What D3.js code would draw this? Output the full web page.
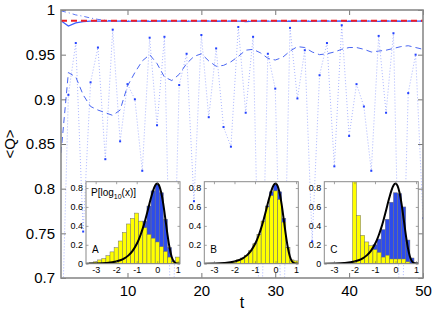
<!DOCTYPE html>
<html><head><meta charset="utf-8">
<script src="https://cdn.jsdelivr.net/npm/d3@7"></script>
<style>body{margin:0;background:#fff}svg{display:block}text{font-family:"Liberation Sans",Arial,Helvetica,sans-serif}</style>
</head><body><svg id="c" width="436" height="316"></svg>
<script>
// ---------- data ----------
const tValues = d3.range(1, 51);
const qDotted = [0.60,0.905,0.963,0.752,0.919,0.958,0.833,0.978,0.853,0.917,
  0.900,0.820,0.969,0.871,0.970,0.60,0.916,0.951,0.786,0.972,
  0.880,0.957,0.869,0.847,0.981,0.885,0.970,0.60,0.951,0.912,
  0.60,0.980,0.901,0.955,0.741,0.927,0.963,0.825,0.983,0.859,
  0.917,0.892,0.820,0.971,0.885,0.974,0.60,0.907,0.950,0.767];
const qDashed = [0.84,0.93,0.925,0.905,0.892,0.888,0.885,0.882,0.888,0.915,
  0.930,0.943,0.950,0.940,0.925,0.921,0.928,0.940,0.948,0.951,
  0.943,0.937,0.938,0.942,0.948,0.955,0.956,0.952,0.946,0.944,
  0.947,0.954,0.959,0.958,0.953,0.950,0.951,0.953,0.956,0.958,
  0.958,0.956,0.953,0.954,0.955,0.957,0.959,0.960,0.958,0.956];
const qDashDot = [0.999,0.997,0.9945,0.993,0.991,0.9895,0.9885,0.988,0.9878,0.9877,
  0.9877,0.9877,0.9877,0.9877,0.9877,0.9877,0.9877,0.9877,0.9877,0.9877,
  0.9877,0.9877,0.9877,0.9877,0.9877,0.9877,0.9877,0.9877,0.9877,0.9877,
  0.9877,0.9877,0.9877,0.9877,0.9877,0.9877,0.9877,0.9877,0.9877,0.9877,
  0.9877,0.9877,0.9877,0.9877,0.9877,0.9877,0.9877,0.9877,0.9877,0.9877];
const qSolid = [0.988,0.982,0.9855,0.987,0.9875,0.9876,0.9874,0.9877,0.9876,0.9873,
  0.9877,0.9875,0.9872,0.9876,0.9877,0.9874,0.9876,0.9873,0.9877,0.9875,
  0.9876,0.9872,0.9876,0.9874,0.9877,0.9871,0.9876,0.9875,0.9874,0.9877,
  0.9876,0.9873,0.9876,0.9875,0.9872,0.9877,0.9875,0.9874,0.9876,0.9873,
  0.9876,0.9875,0.9877,0.9872,0.9876,0.9875,0.9873,0.9877,0.9875,0.9876];
const qReference = [0.988, 0.988];
const qReferenceT = [1, 50];
const xTicks = [10, 20, 30, 40, 50];
const yTicks = [0.7, 0.75, 0.8, 0.85, 0.9, 0.95, 1];

// insets: histograms of log10(x)
const binCenters = [-3.2,-3.0,-2.8,-2.6,-2.4,-2.2,-2.0,-1.8,-1.6,-1.4,-1.2,-1.0,-0.8,-0.6,-0.4,-0.2,0.0,0.2,0.4,0.6,0.8,1.0];
const histAYellow = [0.01,0.02,0.04,0.055,0.085,0.125,0.17,0.24,0.33,0.42,0.48,0.535,0.45,0.38,0.31,0.27,0.23,0.18,0.13,0.07,0.02,0.07];
const histABlue   = [0.002,0.003,0.005,0.006,0.009,0.014,0.022,0.035,0.055,0.088,0.135,0.21,0.31,0.45,0.61,0.77,0.84,0.75,0.47,0.17,0.03,0.003];
const histBYellow = [0.001,0.002,0.004,0.006,0.01,0.015,0.025,0.04,0.06,0.09,0.14,0.21,0.31,0.45,0.60,0.72,0.77,0.68,0.44,0.17,0.04,0.03];
const histBBlue   = [0.001,0.002,0.004,0.006,0.009,0.014,0.022,0.035,0.055,0.088,0.135,0.21,0.31,0.45,0.61,0.76,0.84,0.76,0.48,0.17,0.03,0.003];
const histCYellow = [0,0,0,0,0,0,1.2,0.51,0.30,0.23,0.19,0.15,0.12,0.07,0.09,0.05,0.05,0.05,0.05,0.02,0,0];
const histCBlue   = [0.001,0.002,0.003,0.005,0.008,0.012,0.02,0.03,0.05,0.09,0.15,0.20,0.26,0.36,0.47,0.65,0.75,0.74,0.60,0.25,0.06,0.01];
const curveX = [-3.5,-3.0,-2.5,-2.0,-1.8,-1.6,-1.4,-1.2,-1.0,-0.9,-0.8,-0.7,-0.6,-0.5,-0.4,-0.3,-0.2,-0.1,0.0,0.1,0.2,0.3,0.4,0.5,0.6,0.7,0.8,0.9,1.0,1.1];
const curveY = [0.0007,0.0023,0.0073,0.0228,0.0359,0.0564,0.0881,0.1364,0.2083,0.2556,0.3114,0.3763,0.4499,0.5307,0.6157,0.6991,0.7731,0.8265,0.8471,0.8233,0.7481,0.6248,0.4691,0.3081,0.1712,0.0768,0.0264,0.0065,0.0011,0.0001];
const insetLetters = ["A", "B", "C"];
const insetXTicks = [-3, -2, -1, 0, 1];
const insetYTicks = [0, 0.2, 0.4, 0.6, 0.8];

// ---------- layout ----------
const svg = d3.select("#c");
const L = 61, R = 423, T = 10, B = 278;
const x = d3.scaleLinear().domain([1, 50]).range([L, R]);
const y = d3.scaleLinear().domain([0.7, 1]).range([B, T]);
const axisGrey = "#8a8a8a";
const fmtMain = v => (v === 1 ? "1" : d3.format("")(v));

svg.append("defs").append("clipPath").attr("id", "mainClip")
  .append("rect").attr("x", L).attr("y", T).attr("width", R - L).attr("height", B - T);

const plot = svg.append("g").attr("clip-path", "url(#mainClip)");
const line = d3.line().x((d, i) => x(tValues[i])).y(d => y(d));

plot.append("path").datum(qDotted).attr("d", line)
  .attr("fill", "none").attr("stroke", "#5a70ff").attr("stroke-width", 0.8)
  .attr("stroke-dasharray", "1,2").attr("opacity", 0.65);
plot.selectAll("rect.mk").data(qDotted).join("rect").attr("class", "mk")
  .attr("x", (d, i) => x(tValues[i]) - 1).attr("y", d => y(d) - 1)
  .attr("width", 2).attr("height", 2).attr("fill", "#2442ff");
plot.append("path").datum(qDashed).attr("d", line)
  .attr("fill", "none").attr("stroke", "#4a66f2").attr("stroke-width", 1)
  .attr("stroke-dasharray", "6,4");
plot.append("path").datum(qDashDot).attr("d", line)
  .attr("fill", "none").attr("stroke", "#4a66f2").attr("stroke-width", 0.9)
  .attr("stroke-dasharray", "5,3,1,3");
plot.append("path").datum(qSolid).attr("d", line)
  .attr("fill", "none").attr("stroke", "#3a5cff").attr("stroke-width", 1.2);
plot.append("path").datum(qReference)
  .attr("d", d3.line().x((d, i) => x(qReferenceT[i])).y(d => y(d)))
  .attr("fill", "none").attr("stroke", "#ee1c24").attr("stroke-width", 2)
  .attr("stroke-dasharray", "6,4");

// main axes
function styleAxis(g) {
  g.select(".domain").remove();
  g.selectAll(".tick line").attr("stroke", "#555").attr("stroke-width", 0.8);
  g.selectAll("text").attr("fill", "#000").style("font-size", "15px")
   .style("font-family", '"Liberation Sans",Arial,sans-serif');
}
svg.append("g").attr("transform", `translate(0,${B})`)
  .call(d3.axisBottom(x).tickValues(xTicks).tickSize(-5).tickPadding(7).tickFormat(d3.format("d")))
  .call(styleAxis);
svg.append("g").attr("transform", `translate(0,${T})`)
  .call(d3.axisTop(x).tickValues(xTicks).tickSize(-5).tickFormat(""))
  .call(styleAxis);
svg.append("g").attr("transform", `translate(${L},0)`)
  .call(d3.axisLeft(y).tickValues(yTicks).tickSize(-5).tickPadding(6).tickFormat(fmtMain))
  .call(styleAxis);
svg.append("g").attr("transform", `translate(${R},0)`)
  .call(d3.axisRight(y).tickValues(yTicks).tickSize(-5).tickFormat(""))
  .call(styleAxis);
svg.append("rect").attr("x", L).attr("y", T).attr("width", R - L).attr("height", B - T)
  .attr("fill", "none").attr("stroke", axisGrey).attr("stroke-width", 1.6);

svg.append("text").attr("x", (L + R) / 2).attr("y", 308).attr("text-anchor", "middle")
  .style("font-size", "16px").text("t");
svg.append("text").attr("transform", `translate(15,${(T + B) / 2}) rotate(-90)`)
  .attr("text-anchor", "middle").style("font-size", "15px").text("<Q>");

// insets
const insetBoxes = [[86, 180], [204.3, 298.3], [324.3, 418.3]];
const insetData = [[histAYellow, histABlue], [histBYellow, histBBlue], [histCYellow, histCBlue]];
const IT = 181.7, IB = 263.7;
const fmtInset = v => String(v);

insetBoxes.forEach((bx, k) => {
  const xs = d3.scaleLinear().domain([-3.47, 1.11]).range(bx);
  const ys = d3.scaleLinear().domain([0, 0.867]).range([IB, IT]);
  const g = svg.append("g");
  const cid = "ic" + k;
  svg.select("defs").append("clipPath").attr("id", cid)
    .append("rect").attr("x", bx[0]).attr("y", IT).attr("width", bx[1] - bx[0]).attr("height", IB - IT);
  g.append("rect").attr("x", bx[0]).attr("y", IT).attr("width", bx[1] - bx[0]).attr("height", IB - IT)
    .attr("fill", "#fff");
  const inner = g.append("g").attr("clip-path", `url(#${cid})`);
  const [yel, blu] = insetData[k];
  const bar = (sel, vals, fill) => sel.selectAll(null).data(vals).join("rect")
    .attr("x", (d, i) => xs(binCenters[i] - 0.1)).attr("width", (d, i) => xs(binCenters[i] + 0.1) - xs(binCenters[i] - 0.1))
    .attr("y", d => ys(d)).attr("height", d => ys(0) - ys(d))
    .attr("fill", fill).attr("stroke", "#6f6f6f").attr("stroke-width", 0.5);
  bar(inner, blu, "#2d4cec");
  bar(inner, yel, "#ffff00");
  inner.append("path").datum(curveY)
    .attr("d", d3.line().curve(d3.curveMonotoneX).x((d, i) => xs(curveX[i])).y(d => ys(d)))
    .attr("fill", "none").attr("stroke", "#000").attr("stroke-width", 2);

  const st = gg => {
    gg.select(".domain").remove();
    gg.selectAll(".tick line").attr("stroke", "#666").attr("stroke-width", 0.6);
    gg.selectAll("text").attr("fill", "#000").style("font-size", "9px");
  };
  g.append("g").attr("transform", `translate(0,${IB})`)
    .call(d3.axisBottom(xs).tickValues(insetXTicks).tickSize(-2.5).tickPadding(3).tickFormat(fmtInset)).call(st);
  g.append("g").attr("transform", `translate(0,${IT})`)
    .call(d3.axisTop(xs).tickValues(insetXTicks).tickSize(-2.5).tickFormat("")).call(st);
  g.append("g").attr("transform", `translate(${bx[0]},0)`)
    .call(d3.axisLeft(ys).tickValues(insetYTicks).tickSize(-2.5).tickPadding(3).tickFormat(d3.format(""))).call(st);
  g.append("g").attr("transform", `translate(${bx[1]},0)`)
    .call(d3.axisRight(ys).tickValues(insetYTicks).tickSize(-2.5).tickFormat("")).call(st);
  g.append("rect").attr("x", bx[0]).attr("y", IT).attr("width", bx[1] - bx[0]).attr("height", IB - IT)
    .attr("fill", "none").attr("stroke", axisGrey).attr("stroke-width", 1);
  g.append("text").attr("x", bx[0] + 6).attr("y", IB - 11).style("font-size", "10px").text(insetLetters[k]);
  if (k === 0) {
    const t = g.append("text").attr("x", bx[0] + 5).attr("y", IT + 14).style("font-size", "10px");
    t.append("tspan").text("P[log");
    t.append("tspan").attr("dy", 3).style("font-size", "7px").text("10");
    t.append("tspan").attr("dy", -3).text("(x)]");
  }
});
</script></body></html>
